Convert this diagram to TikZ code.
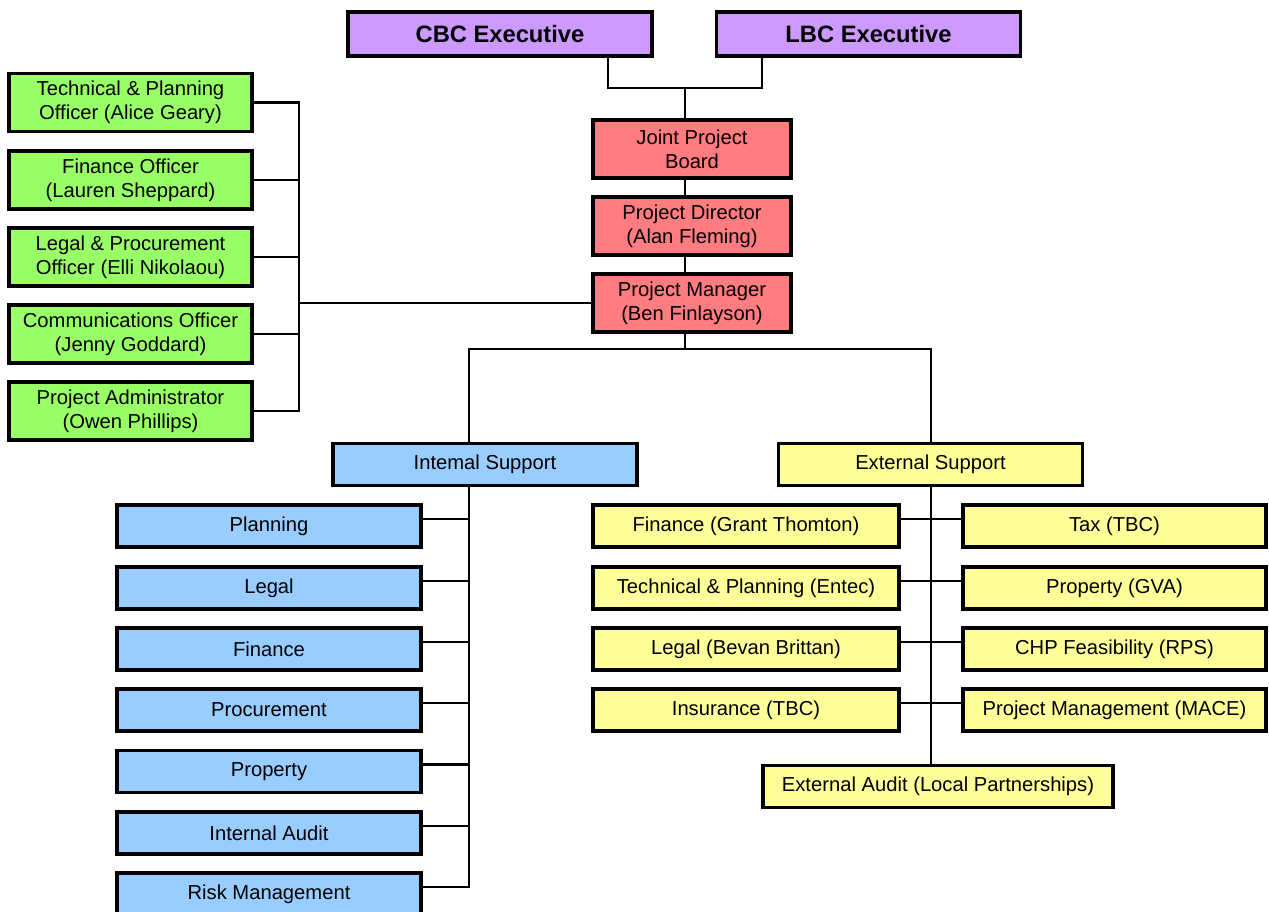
\documentclass[tikz,border=0pt]{standalone}
\usepackage{fontspec}
\setmainfont{Liberation Sans}
\definecolor{execpurple}{HTML}{CC99FF}
\definecolor{leadred}{HTML}{FF7C80}
\definecolor{officergreen}{HTML}{99FF66}
\definecolor{intblue}{HTML}{99CCFF}
\definecolor{extyellow}{HTML}{FFFF99}

\begin{document}
\begin{tikzpicture}[x=0.02cm, y=-0.02cm,
    box/.style={draw, line width=2.2pt, inner sep=0pt, align=center, font=\fontsize{11.5}{13.6}\selectfont},
    execbox/.style={box, fill=execpurple, minimum width=6.08cm, minimum height=0.88cm, font=\fontsize{13.5}{16}\selectfont\bfseries},
    leadbox/.style={box, fill=leadred, minimum width=3.96cm, minimum height=1.16cm},
    officerbox/.style={box, fill=officergreen, minimum width=4.86cm, minimum height=1.16cm},
    intbox/.style={box, fill=intblue, minimum width=6.08cm, minimum height=0.84cm},
    extbox/.style={box, fill=extyellow, minimum height=0.84cm},
    link/.style={line width=1.5pt}]
        \useasboundingbox (0,0) rectangle (1269,912);

        % executives and project board
        \node[execbox] (cbc) at (500,34) {CBC Executive};
        \node[execbox] (lbc) at (868.5,34) {LBC Executive};
        \node[leadbox] (jpb) at (692,149) {Joint Project\\Board};
        \node[leadbox] (pd) at (692,226) {Project Director\\(Alan Fleming)};
        \node[leadbox] (pm) at (692,303) {Project Manager\\(Ben Finlayson)};

        \coordinate (jl) at (608,88);
        \coordinate (jr) at (762,88);
        \coordinate (jn) at (685,88);
        \draw[link] (cbc.south -| jl) -- (jl) -- (jr) -- (lbc.south -| jr);
        \draw[link] (jn) -- (jpb.north -| jn);
        \draw[link] (jpb.south -| jn) -- (pd.north -| jn);
        \draw[link] (pd.south -| jn) -- (pm.north -| jn);

        % officers
        \node[officerbox] (tpo) at (130.5,102.5) {Technical \& Planning\\Officer (Alice Geary)};
        \node[officerbox] (fo) at (130.5,180) {Finance Officer\\(Lauren Sheppard)};
        \node[officerbox] (lpo) at (130.5,257) {Legal \& Procurement\\Officer (Elli Nikolaou)};
        \node[officerbox] (co) at (130.5,334) {Communications Officer\\(Jenny Goddard)};
        \node[officerbox] (pa) at (130.5,411) {Project Administrator\\(Owen Phillips)};

        \coordinate (obus) at (299,303);
        \draw[link] (tpo.east) -- (tpo.east -| obus) -- (pa.east -| obus) -- (pa.east);
        \draw[link] (fo.east) -- (fo.east -| obus);
        \draw[link] (lpo.east) -- (lpo.east -| obus);
        \draw[link] (co.east) -- (co.east -| obus);
        \draw[link] (obus) -- (pm.west);

        % support heads
        \node[intbox] (intsup) at (485,464.5) {Intemal Support};
        \node[extbox, minimum width=6.08cm] (extsup) at (930.5,464.5) {External Support};

        \coordinate (split) at (685,349);
        \coordinate (ibus) at (469,349);
        \coordinate (ebus) at (931,349);
        \draw[link] (pm.south -| split) -- (split);
        \draw[link] (intsup.north -| ibus) -- (ibus) -- (ebus) -- (extsup.north -| ebus);

        % internal support
        \node[intbox] (plan) at (269,526) {Planning};
        \node[intbox] (legal) at (269,588) {Legal};
        \node[intbox] (fin) at (269,649) {Finance};
        \node[intbox] (proc) at (269,710) {Procurement};
        \node[intbox] (prop) at (269,771.5) {Property};
        \node[intbox] (audit) at (269,833) {Internal Audit};
        \node[intbox] (risk) at (269,894) {Risk Management};

        \draw[link] (intsup.south -| ibus) -- ([yshift=1.4mm]risk.east -| ibus) -- ([yshift=1.4mm]risk.east);
        \draw[link] ([yshift=1.4mm]plan.east) -- ([yshift=1.4mm]plan.east -| ibus);
        \draw[link] ([yshift=1.4mm]legal.east) -- ([yshift=1.4mm]legal.east -| ibus);
        \draw[link] ([yshift=1.4mm]fin.east) -- ([yshift=1.4mm]fin.east -| ibus);
        \draw[link] ([yshift=1.4mm]proc.east) -- ([yshift=1.4mm]proc.east -| ibus);
        \draw[link] ([yshift=1.4mm]prop.east) -- ([yshift=1.4mm]prop.east -| ibus);
        \draw[link] ([yshift=1.4mm]audit.east) -- ([yshift=1.4mm]audit.east -| ibus);

        % external support
        \node[extbox, minimum width=6.12cm] (fgt) at (746,526) {Finance (Grant Thomton)};
        \node[extbox, minimum width=6.12cm] (tpe) at (746,588) {Technical \& Planning (Entec)};
        \node[extbox, minimum width=6.12cm] (lbb) at (746,649) {Legal (Bevan Brittan)};
        \node[extbox, minimum width=6.12cm] (ins) at (746,710) {Insurance (TBC)};
        \node[extbox, minimum width=6.06cm] (tax) at (1114.5,526) {Tax (TBC)};
        \node[extbox, minimum width=6.06cm] (gva) at (1114.5,588) {Property (GVA)};
        \node[extbox, minimum width=6.06cm] (chp) at (1114.5,649) {CHP Feasibility (RPS)};
        \node[extbox, minimum width=6.06cm] (pmm) at (1114.5,710) {Project Management (MACE)};
        \node[extbox, minimum width=7.0cm] (ea) at (938,786.5) {External Audit (Local Partnerships)};

        \draw[link] (extsup.south -| ebus) -- (ea.north -| ebus);
        \draw[link] ([yshift=1.4mm]fgt.east) -- ([yshift=1.4mm]tax.west);
        \draw[link] ([yshift=1.4mm]tpe.east) -- ([yshift=1.4mm]gva.west);
        \draw[link] ([yshift=1.4mm]lbb.east) -- ([yshift=1.4mm]chp.west);
        \draw[link] ([yshift=1.4mm]ins.east) -- ([yshift=1.4mm]pmm.west);
    \end{tikzpicture}
\end{document}
